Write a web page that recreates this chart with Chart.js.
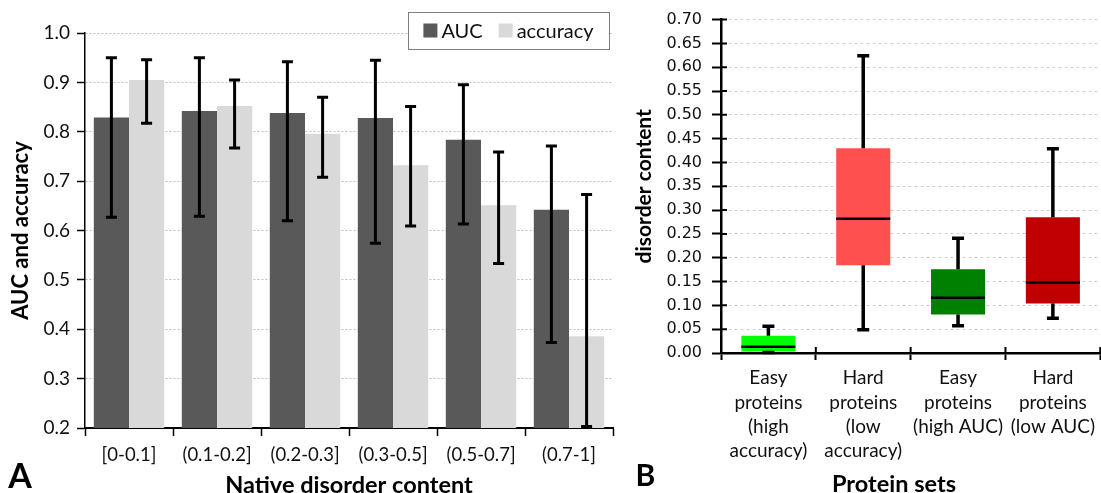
<!DOCTYPE html>
<html>
<head>
<meta charset="utf-8">
<script src="https://cdn.jsdelivr.net/npm/chart.js@4.4.1/dist/chart.umd.min.js"></script>
<style>
  html, body { margin: 0; padding: 0; background: #fff; overflow: hidden; }
  body { width: 1101px; height: 493px; position: relative; }
  .panel { position: absolute; top: 0; height: 493px; }
  #panelA { left: 0; width: 640px; }
  #panelB { left: 620px; width: 481px; }
</style>
</head>
<body>
<div class="panel" id="panelA"><canvas id="disorderBars"></canvas></div>
<div class="panel" id="panelB"><canvas id="proteinBoxes"></canvas></div>
<script>
// panel A - AUC / accuracy per native disorder bin
const bins = ['[0-0.1]', '(0.1-0.2]', '(0.2-0.3]', '(0.3-0.5]', '(0.5-0.7]', '(0.7-1]'];
const auc = [0.829, 0.842, 0.838, 0.828, 0.784, 0.642];
const aucLow = [0.627, 0.629, 0.620, 0.574, 0.613, 0.373];
const aucHigh = [0.950, 0.950, 0.942, 0.945, 0.895, 0.771];
const accuracy = [0.905, 0.852, 0.796, 0.732, 0.651, 0.386];
const accLow = [0.817, 0.767, 0.708, 0.609, 0.533, 0.203];
const accHigh = [0.946, 0.905, 0.870, 0.851, 0.759, 0.673];

// panel B - disorder content of protein sets (box plots)
const proteinSets = [
    ['Easy', 'proteins', '(high', 'accuracy)'],
    ['Hard', 'proteins', '(low', 'accuracy)'],
    ['Easy', 'proteins', '(high AUC)'],
    ['Hard', 'proteins', '(low AUC)']
];
const boxMin = [0.001, 0.049, 0.057, 0.073];
const boxQ1 = [0.003, 0.184, 0.081, 0.104];
const boxMedian = [0.013, 0.282, 0.116, 0.148];
const boxQ3 = [0.036, 0.430, 0.176, 0.285];
const boxMax = [0.056, 0.624, 0.241, 0.429];
const boxColors = ['#00ff00', '#ff5050', '#008000', '#c00000'];

Chart.defaults.font.family = 'Lato';
Chart.defaults.color = '#111';

const errorBars = {
    id: 'errorBars',
    afterDatasetsDraw(chart) {
        const { ctx, scales: { y } } = chart;
        ctx.save();
        ctx.strokeStyle = '#000';
        ctx.lineWidth = 3;
        chart.data.datasets.forEach((ds, i) => {
            chart.getDatasetMeta(i).data.forEach((bar, j) => {
                const top = y.getPixelForValue(ds.errHigh[j]);
                const bottom = y.getPixelForValue(ds.errLow[j]);
                ctx.beginPath();
                ctx.moveTo(bar.x, top); ctx.lineTo(bar.x, bottom);
                ctx.moveTo(bar.x - 5.5, top); ctx.lineTo(bar.x + 5.5, top);
                ctx.moveTo(bar.x - 5.5, bottom); ctx.lineTo(bar.x + 5.5, bottom);
                ctx.stroke();
            });
        });
        ctx.restore();
    }
};

const legendBox = {
    id: 'legendBox',
    afterDraw(chart) {
        const { ctx, chartArea } = chart;
        const w = 201, h = 37;
        const left = chartArea.right - 205, top = chartArea.top - 21;
        ctx.save();
        ctx.fillStyle = '#fff';
        ctx.fillRect(left, top, w, h);
        ctx.strokeStyle = '#7f7f7f';
        ctx.lineWidth = 1;
        ctx.strokeRect(left + 0.5, top + 0.5, w, h);
        ctx.font = '20px Lato';
        ctx.textBaseline = 'middle';
        const box = 14, gap = 4, spacing = 16;
        const items = chart.data.datasets;
        const total = items.reduce((s, ds) => s + box + gap + ctx.measureText(ds.label).width, 0) + spacing * (items.length - 1);
        let x = left + (w - total) / 2;
        const cy = top + h / 2;
        items.forEach(ds => {
            ctx.fillStyle = ds.backgroundColor;
            ctx.fillRect(x, cy - box / 2, box, box);
            x += box + gap;
            ctx.fillStyle = '#111';
            ctx.fillText(ds.label, x, cy + 1);
            x += ctx.measureText(ds.label).width + spacing;
        });
        ctx.restore();
    }
};

const captions = {
    id: 'captions',
    afterDraw(chart, args, opts) {
        const ctx = chart.ctx;
        ctx.save();
        ctx.fillStyle = '#000';
        ctx.textAlign = 'center';
        ctx.textBaseline = 'alphabetic';
        opts.items.forEach(it => {
            ctx.font = `bold ${it.size}px Lato`;
            ctx.fillText(it.text, it.x, it.y);
        });
        ctx.restore();
    }
};

const boxWhiskers = {
    id: 'boxWhiskers',
    afterDatasetsDraw(chart) {
        const { ctx, scales: { y } } = chart;
        ctx.save();
        ctx.strokeStyle = '#000';
        chart.getDatasetMeta(0).data.forEach((box, j) => {
            const hi = y.getPixelForValue(boxMax[j]);
            const lo = y.getPixelForValue(boxMin[j]);
            ctx.lineWidth = 3.5;
            ctx.beginPath();
            ctx.moveTo(box.x, y.getPixelForValue(boxQ3[j])); ctx.lineTo(box.x, hi);
            ctx.moveTo(box.x, y.getPixelForValue(boxQ1[j])); ctx.lineTo(box.x, lo);
            ctx.moveTo(box.x - 6, hi); ctx.lineTo(box.x + 6, hi);
            ctx.moveTo(box.x - 6, lo); ctx.lineTo(box.x + 6, lo);
            ctx.stroke();
            const med = y.getPixelForValue(boxMedian[j]);
            ctx.lineWidth = 2.5;
            ctx.beginPath();
            ctx.moveTo(box.x - box.width / 2, med); ctx.lineTo(box.x + box.width / 2, med);
            ctx.stroke();
        });
        ctx.restore();
    }
};

// ticks in panel B cross the axes
const crossTicks = {
    id: 'crossTicks',
    afterDraw(chart) {
        const { ctx, chartArea, scales: { x, y } } = chart;
        ctx.save();
        ctx.strokeStyle = '#000';
        ctx.lineWidth = 2;
        ctx.beginPath();
        y.ticks.forEach((t, i) => {
            const py = y.getPixelForTick(i);
            ctx.moveTo(chartArea.left, py); ctx.lineTo(chartArea.left + 6, py);
        });
        const step = (x.right - x.left) / x.ticks.length;
        for (let i = 0; i <= x.ticks.length; i++) {
            const px = x.left + i * step;
            ctx.moveTo(px, chartArea.bottom); ctx.lineTo(px, chartArea.bottom - 6);
        }
        ctx.stroke();
        ctx.restore();
    }
};

new Chart(document.getElementById('disorderBars'), {
    type: 'bar',
    data: {
        labels: bins,
        datasets: [
            { label: 'AUC', data: auc, errLow: aucLow, errHigh: aucHigh, backgroundColor: '#595959', categoryPercentage: 0.8, barPercentage: 1.0 },
            { label: 'accuracy', data: accuracy, errLow: accLow, errHigh: accHigh, backgroundColor: '#d9d9d9', categoryPercentage: 0.8, barPercentage: 1.0 }
        ]
    },
    options: {
        responsive: true,
        maintainAspectRatio: false,
        animation: false,
        layout: { padding: { top: 33, right: 27, bottom: 0, left: 0 } },
        plugins: {
            legend: { display: false },
            tooltip: { enabled: false },
            captions: { items: [{ text: 'A', x: 20, y: 488, size: 34 }] }
        },
        scales: {
            x: {
                grid: { drawOnChartArea: false, offset: true, tickLength: 8, tickColor: '#000', tickWidth: 1.5 },
                border: { color: '#000', width: 2 },
                ticks: { font: { size: 18.5 }, padding: 8, maxRotation: 0, autoSkip: false },
                title: { display: true, text: 'Native disorder content', color: '#000', font: { size: 23.5, weight: 'bold', lineHeight: 0.68 }, padding: 0 },
                afterFit: s => { s.height = 65; }
            },
            y: {
                min: 0.2,
                max: 1.0,
                ticks: { stepSize: 0.1, font: { size: 19 }, padding: 7, callback: v => v.toFixed(1) },
                grid: { color: '#bdbdbd', lineWidth: 1, tickColor: '#000', tickLength: 8, tickWidth: 1.5 },
                border: { color: '#000', width: 1.5, dash: [2, 2] },
                title: { display: true, text: 'AUC and accuracy', color: '#000', font: { size: 22, weight: 'bold' }, padding: { top: 8, bottom: 0 } },
                afterFit: s => { s.width = 85; }
            }
        }
    },
    plugins: [errorBars, legendBox, captions]
});

new Chart(document.getElementById('proteinBoxes'), {
    type: 'bar',
    data: {
        labels: proteinSets,
        datasets: [{
            data: boxQ1.map((q, i) => [q, boxQ3[i]]),
            backgroundColor: boxColors,
            categoryPercentage: 1,
            barPercentage: 0.57,
            borderSkipped: false
        }]
    },
    options: {
        responsive: true,
        maintainAspectRatio: false,
        animation: false,
        layout: { padding: { top: 19, right: 0, bottom: 0, left: 0 } },
        plugins: {
            legend: { display: false },
            tooltip: { enabled: false },
            captions: { items: [
                { text: 'B', x: 25.5, y: 486, size: 30 },
                { text: 'Protein sets', x: 274, y: 492, size: 23.5 }
            ] }
        },
        scales: {
            x: {
                grid: { drawOnChartArea: false, offset: true, tickLength: 7, tickColor: '#000', tickWidth: 2 },
                border: { color: '#000', width: 2.5 },
                ticks: { font: { size: 19, lineHeight: 1.28 }, padding: 6, maxRotation: 0, autoSkip: false },
                afterFit: s => { s.height = 140; }
            },
            y: {
                min: 0,
                max: 0.7,
                ticks: { stepSize: 0.05, font: { family: 'DejaVu Sans', size: 16 }, padding: 10, callback: v => v.toFixed(2) },
                grid: { color: '#d0d0d0', lineWidth: 1, tickColor: '#000', tickLength: 9, tickWidth: 2 },
                border: { color: '#000', width: 2.5, dash: [3, 3] },
                title: { display: true, text: 'disorder content', color: '#000', font: { size: 21, weight: 'bold' }, padding: { top: 12, bottom: 0 } },
                afterFit: s => { s.width = 101; }
            }
        }
    },
    plugins: [boxWhiskers, crossTicks, captions]
});
</script>
</body>
</html>
